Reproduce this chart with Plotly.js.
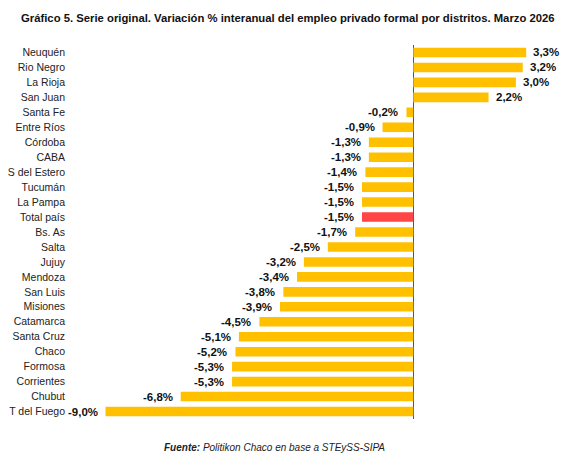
<!DOCTYPE html>
<html>
<head>
<meta charset="utf-8">
<script src="https://cdn.plot.ly/plotly-3.0.1.min.js"></script>
<style>html,body{margin:0;padding:0;background:#fff;}#chart{width:583px;height:474px;}</style>
</head>
<body>
<div id="chart"></div>
<script>
const cats = ["Neuquén","Rio Negro","La Rioja","San Juan","Santa Fe","Entre Ríos","Córdoba","CABA","S del Estero","Tucumán","La Pampa","Total país","Bs. As","Salta","Jujuy","Mendoza","San Luis","Misiones","Catamarca","Santa Cruz","Chaco","Formosa","Corrientes","Chubut","T del Fuego"];
const values = [3.3,3.2,3.0,2.2,-0.2,-0.9,-1.3,-1.3,-1.4,-1.5,-1.5,-1.5,-1.7,-2.5,-3.2,-3.4,-3.8,-3.9,-4.5,-5.1,-5.2,-5.3,-5.3,-6.8,-9.0];
const highlight = "Total país";
const titleText = "Gráfico 5. Serie original. Variación % interanual del empleo privado formal por distritos. Marzo 2026";
const sourceText = "<b><i>Fuente:</i></b><i> Politikon Chaco en base a STEySS-SIPA</i>";

const n = cats.length;
const fmt = v => v.toFixed(1).replace('.', ',') + '%';
const colors = cats.map(c => c === highlight ? '#FF4545' : '#FFC000');

const trace = {
  type: 'bar', orientation: 'h',
  x: values, y: cats,
  marker: {color: colors},
  hoverinfo: 'none'
};

const annotations = values.map((v, i) => ({
  x: v, y: cats[i], xref: 'x', yref: 'y',
  text: '<b>' + fmt(v) + '</b>', showarrow: false,
  xanchor: v >= 0 ? 'left' : 'right',
  xshift: v >= 0 ? 5 : -6,
  font: {family: 'Liberation Sans, Arial, sans-serif', size: 11.5, color: '#111'}
}));
annotations.push({
  xref: 'paper', yref: 'paper', x: (274 - 66) / 494, y: (419 - 447) / 374,
  xanchor: 'center', yanchor: 'middle', showarrow: false,
  text: sourceText,
  font: {family: 'Liberation Sans, Arial, sans-serif', size: 10, color: '#222'}
});

const layout = {
  width: 583, height: 474,
  margin: {l: 66, r: 23, t: 45, b: 55},
  paper_bgcolor: '#fff', plot_bgcolor: '#fff',
  showlegend: false,
  bargap: 0.36,
  title: {
    text: '<b>' + titleText + '</b>',
    xref: 'container', yref: 'container',
    x: 21 / 583, xanchor: 'left',
    y: 1 - 18 / 474, yanchor: 'middle',
    font: {family: 'Liberation Sans, Arial, sans-serif', size: 11.3, color: '#111'}
  },
  xaxis: {
    range: [-10.155, 4.289],
    showticklabels: false, showgrid: false, ticks: '',
    zeroline: true, zerolinecolor: '#555', zerolinewidth: 1,
    showline: false, fixedrange: true
  },
  yaxis: {
    type: 'category',
    categoryorder: 'array', categoryarray: cats,
    range: [n - 0.5, -0.5],
    showgrid: false, zeroline: false, showline: false, ticks: '',
    tickfont: {family: 'Liberation Sans, Arial, sans-serif', size: 10.5, color: '#222'},
    ticklabelstandoff: 0,
    fixedrange: true
  },
  annotations: annotations
};

Plotly.newPlot('chart', [trace], layout, {displayModeBar: false, staticPlot: true});
</script>
</body>
</html>
